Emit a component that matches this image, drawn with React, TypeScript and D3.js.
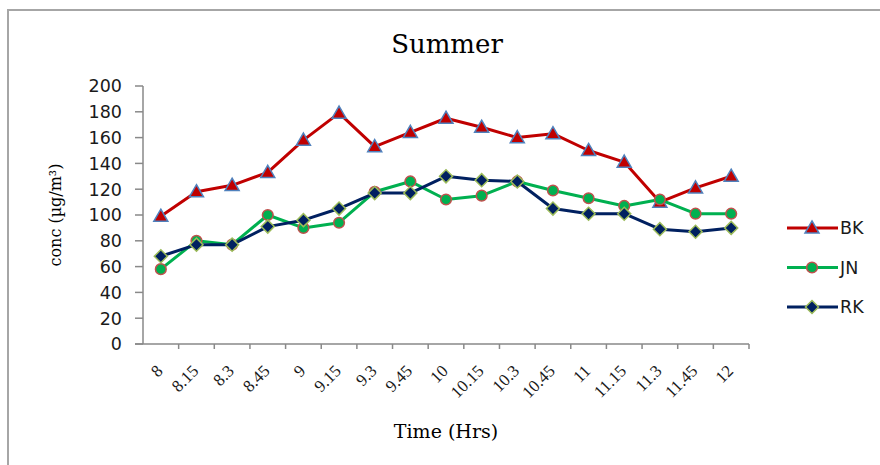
import React from "react";
import * as d3 from "d3";

// time of day (Hrs)
const times = ["8", "8.15", "8.3", "8.45", "9", "9.15", "9.3", "9.45", "10", "10.15", "10.3", "10.45", "11", "11.15", "11.3", "11.45", "12"];

const bk = [99, 118, 123, 133, 158, 179, 153, 164, 175, 168, 160, 163, 150, 141, 110, 121, 130];
const jn = [58, 80, 77, 100, 90, 94, 118, 126, 112, 115, 126, 119, 113, 107, 112, 101, 101];
const rk = [68, 77, 77, 91, 96, 105, 117, 117, 130, 127, 126, 105, 101, 101, 89, 87, 90];

const yTicks = [0, 20, 40, 60, 80, 100, 120, 140, 160, 180, 200];

const width = 880;
const height = 465;
const marginLeft = 143;
const marginRight = 131;
const marginTop = 86;
const marginBottom = 121;

const series = [
  { name: "BK", values: bk, line: "#C00000", fill: "#C00000", stroke: "#4F81BD", shape: "tri" },
  { name: "JN", values: jn, line: "#00B050", fill: "#00B050", stroke: "#C0504D", shape: "circle" },
  { name: "RK", values: rk, line: "#002060", fill: "#002060", stroke: "#9BBB59", shape: "diamond" },
];

const symbols: Record<string, d3.SymbolType> = {
  tri: d3.symbolTriangle,
  circle: d3.symbolCircle,
  diamond: d3.symbolSquare,
};
const symSize: Record<string, number> = { tri: 85, circle: 90, diamond: 85 };

function Marker({ shape, fill, stroke, x, y }: any) {
  const p = d3.symbol(symbols[shape], symSize[shape])();
  const dy = shape === "tri" ? 1 : 0;
  const rot = shape === "diamond" ? " rotate(45)" : "";
  return (
    <path
      d={p || ""}
      transform={`translate(${x},${y + dy})${rot}`}
      fill={fill}
      stroke={stroke}
      strokeWidth={1.5}
    />
  );
}

export default function App() {
  const x = d3.scaleBand<string>().domain(times).range([marginLeft, width - marginRight]);
  const y = d3.scaleLinear().domain([0, 200]).range([height - marginBottom, marginTop]);
  const cx = (t: string) => (x(t) as number) + x.bandwidth() / 2;

  const line = d3
    .line<number>()
    .x((_, i) => cx(times[i]))
    .y((d) => y(d));

  const axisColor = "#898989";
  const y0 = height - marginBottom;

  return (
    <svg
      width={width}
      height={height}
      style={{ position: "absolute", left: 0, top: 0, background: "white" }}
    >
      {/* outer chart frame, runs off the right and bottom */}
      <path d={`M${width + 5},10 H8 V${height + 5}`} fill="none" stroke="#a6a6a6" strokeWidth={2} />

      <text x={447} y={53} textAnchor="middle" fontFamily="DejaVu Serif" fontSize={26} fill="#000">
        Summer
      </text>

      {/* y axis */}
      <g>
        <line x1={marginLeft} x2={marginLeft} y1={marginTop} y2={y0} stroke={axisColor} strokeWidth={1.5} />
        {yTicks.map((t) => (
          <g key={t}>
            <line x1={marginLeft - 8} x2={marginLeft} y1={y(t)} y2={y(t)} stroke={axisColor} strokeWidth={1.5} />
            <text
              x={122}
              y={y(t)}
              dy="0.36em"
              textAnchor="end"
              fontFamily="DejaVu Sans"
              fontSize={17.5}
              fill="#1a1a1a"
            >
              {t}
            </text>
          </g>
        ))}
      </g>

      {/* x axis */}
      <g>
        <line x1={marginLeft - 8} x2={width - marginRight} y1={y0} y2={y0} stroke={axisColor} strokeWidth={1.5} />
        {times.map((t) => (
          <line
            key={t}
            x1={(x(t) as number) + x.bandwidth()}
            x2={(x(t) as number) + x.bandwidth()}
            y1={y0}
            y2={y0 + 5}
            stroke={axisColor}
            strokeWidth={1.5}
          />
        ))}
        {times.map((t) => (
          <text
            key={t}
            transform={`translate(${cx(t) + 3},${y0 + 28}) rotate(-45)`}
            textAnchor="end"
            fontFamily="Liberation Serif"
            fontSize={17}
            fill="#1a1a1a"
          >
            {t}
          </text>
        ))}
      </g>

      <text x={446} y={438} textAnchor="middle" fontFamily="DejaVu Serif" fontSize={19} fill="#000">
        Time (Hrs)
      </text>

      <text
        transform={`translate(61,215) rotate(-90)`}
        textAnchor="middle"
        fontFamily="DejaVu Serif"
        fontSize={16}
        fill="#000"
      >
        conc (µg/m³)
      </text>

      {/* series */}
      {series.map((s) => (
        <g key={s.name}>
          <path d={line(s.values) || ""} fill="none" stroke={s.line} strokeWidth={3} strokeLinejoin="round" />
          {s.values.map((v, i) => (
            <Marker key={i} shape={s.shape} fill={s.fill} stroke={s.stroke} x={cx(times[i])} y={y(v)} />
          ))}
        </g>
      ))}

      {/* legend */}
      {series.map((s, i) => {
        const ly = 228 + i * 39.5;
        return (
          <g key={s.name}>
            <line x1={787} x2={838} y1={ly} y2={ly} stroke={s.line} strokeWidth={3} />
            <Marker shape={s.shape} fill={s.fill} stroke={s.stroke} x={812} y={ly} />
            <text x={840} y={ly} dy="0.36em" fontFamily="DejaVu Sans" fontSize={17.5} fill="#1a1a1a">
              {s.name}
            </text>
          </g>
        );
      })}
    </svg>
  );
}
